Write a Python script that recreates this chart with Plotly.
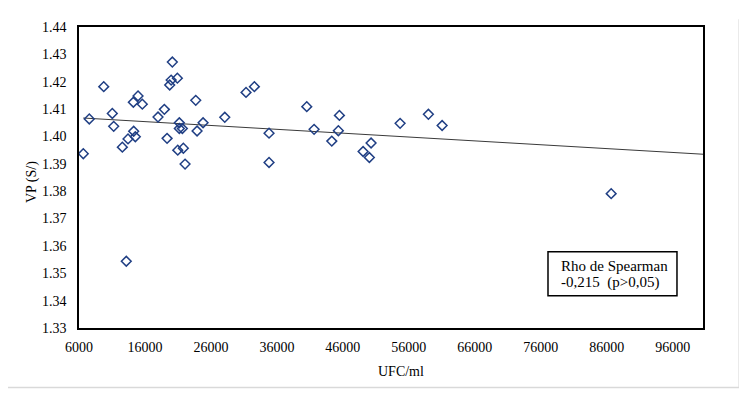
import numpy as np
import plotly.graph_objects as go

# UFC/ml (x) and VP (S/) (y)
ufc = [6650, 7560, 9750, 11050, 11260, 12570, 13430, 14240, 14290, 14540,
       14950, 15600, 17980, 18940, 19350, 19750, 19970, 20150, 20910, 20970,
       21210, 21210, 21670, 21820, 22080, 23700, 23900, 24810, 28100, 31320,
       32590, 40530, 45480, 34810, 34810, 41640, 44320, 45320, 49070, 50280,
       50020, 54680, 58970, 61050, 86680, 13170]
vp = [1.3937, 1.4064, 1.4182, 1.4084, 1.4037, 1.3961, 1.3991, 1.4125, 1.4019, 1.3999,
      1.4148, 1.4118, 1.4071, 1.4099, 1.3993, 1.4188, 1.4206, 1.4272, 1.4213, 1.3950,
      1.4050, 1.4029, 1.4029, 1.3957, 1.3899, 1.4132, 1.4020, 1.4050, 1.4070, 1.4161,
      1.4182, 1.4109, 1.4077, 1.4012, 1.3905, 1.4026, 1.3983, 1.4021, 1.3945, 1.3976,
      1.3923, 1.4048, 1.4081, 1.4040, 1.3791, 1.3544]

x_range = [6000, 100600]
y_range = [1.33, 1.44]
x_ticks = [6000, 16000, 26000, 36000, 46000, 56000, 66000, 76000, 86000, 96000]
y_ticks = [1.33, 1.34, 1.35, 1.36, 1.37, 1.38, 1.39, 1.40, 1.41, 1.42, 1.43, 1.44]

box_line1 = "Rho de Spearman"
box_line2 = "-0,215\u00a0\u00a0(p>0,05)"

# linear trend line (least squares)
slope, intercept = np.polyfit(ufc, vp, 1)
trend_x = np.array([min(ufc), x_range[1]])
trend_y = slope * trend_x + intercept

FONT = "'Liberation Serif', 'Times New Roman', serif"

fig = go.Figure()
fig.add_trace(go.Scatter(
    x=trend_x, y=trend_y, mode="lines",
    line=dict(color="#3a3a3a", width=1), hoverinfo="skip", showlegend=False))
fig.add_trace(go.Scatter(
    x=ufc, y=vp, mode="markers",
    marker=dict(symbol="diamond-open", size=7.5, color="#203f84",
                line=dict(width=1.5, color="#203f84")),
    showlegend=False))

fig.update_layout(
    width=747, height=395,
    margin=dict(l=71, r=52, t=12, b=75),
    paper_bgcolor="white", plot_bgcolor="white",
    font=dict(family=FONT, size=14, color="black"),
    xaxis=dict(range=x_range, tickvals=x_ticks, tickformat="d",
               showgrid=False, zeroline=False, showline=True, mirror=True,
               linecolor="black", linewidth=1.5, ticks="",
               ticklabelstandoff=5,
               tickfont=dict(family=FONT, size=14, color="black")),
    yaxis=dict(range=y_range, tickvals=y_ticks, tickformat=".2f",
               showgrid=False, zeroline=False, showline=True, mirror=True,
               linecolor="black", linewidth=1.5, ticks="",
               ticklabelstandoff=8,
               tickfont=dict(family=FONT, size=14, color="black")),
    annotations=[
        dict(text="VP (S/)", xref="paper", yref="paper", x=-0.0753, y=0.485,
             textangle=-90, showarrow=False, xanchor="center", yanchor="middle",
             font=dict(family=FONT, size=14, color="black")),
        dict(text="UFC/ml", xref="paper", yref="paper", x=0.516, y=-0.146,
             showarrow=False, xanchor="center", yanchor="middle",
             font=dict(family=FONT, size=14, color="black")),
        dict(text=box_line1, xref="paper", yref="paper", x=0.769, y=0.2045,
             showarrow=False, xanchor="left", yanchor="middle",
             font=dict(family=FONT, size=15, color="black")),
        dict(text=box_line2, xref="paper", yref="paper", x=0.769, y=0.150,
             showarrow=False, xanchor="left", yanchor="middle",
             font=dict(family=FONT, size=15, color="black")),
    ],
    shapes=[
        dict(type="rect", xref="paper", yref="paper", x0=0.7516, x1=0.9583,
             y0=0.107, y1=0.253, line=dict(color="black", width=1.5),
             fillcolor="white", layer="below"),
        dict(type="line", xref="paper", yref="paper", x0=-0.117, x1=-0.117,
             y0=-0.198, y1=1.026, line=dict(color="#d9d9d9", width=1.5)),
        dict(type="line", xref="paper", yref="paper", x0=1.058, x1=1.058,
             y0=-0.198, y1=1.026, line=dict(color="#d9d9d9", width=1.5)),
        dict(type="line", xref="paper", yref="paper", x0=-0.117, x1=1.058,
             y0=-0.198, y1=-0.198, line=dict(color="#d9d9d9", width=1.5)),
    ],
)

fig.write_html("out.html")
